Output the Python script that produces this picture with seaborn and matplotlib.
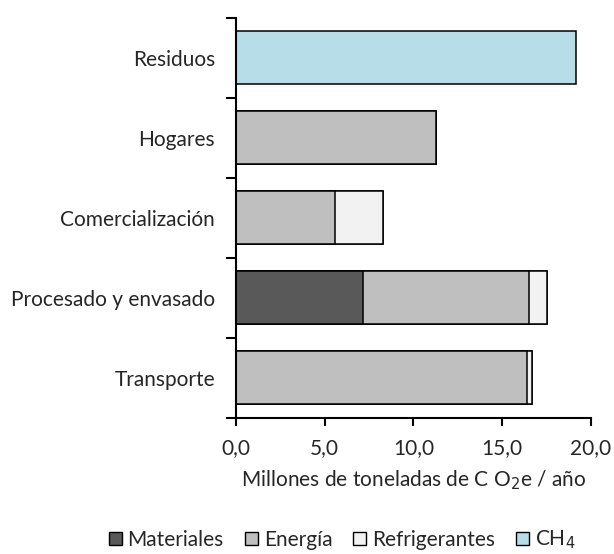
import matplotlib
matplotlib.use("Agg")
import matplotlib.pyplot as plt
import seaborn as sns
import numpy as np
import pandas as pd
from matplotlib.patches import Patch
from matplotlib.ticker import FixedLocator

categories = ["Residuos", "Hogares", "Comercialización", "Procesado y envasado", "Transporte"]
materiales = [0.0, 0.0, 0.0, 7.16, 0.0]
energia = [0.0, 11.25, 5.59, 9.36, 16.41]
refrigerantes = [0.0, 0.0, 2.68, 1.0, 0.25]
ch4 = [19.17, 0.0, 0.0, 0.0, 0.0]
series_names = ["Materiales", "Energía", "Refrigerantes", "CH$_4$"]
colors = ["#595959", "#BFBFBF", "#F2F2F2", "#B7DEE8"]
xticks = [0, 5, 10, 15, 20]
xticklabels = ["0,0", "5,0", "10,0", "15,0", "20,0"]

sns.set_style("white")
plt.rcParams["font.family"] = ["Lato", "DejaVu Sans"]

fig = plt.figure(figsize=(6.14, 5.54), dpi=100)
ax = fig.add_axes([0.384, 0.246, 0.5785, 0.722])

vals = np.array([materiales, energia, refrigerantes, ch4])
cum = np.cumsum(vals, axis=0)
for i in range(3, -1, -1):
    df = pd.DataFrame({"cat": categories, "v": cum[i]})
    sns.barplot(data=df, x="v", y="cat", order=categories, orient="h",
                color=colors[i], saturation=1, width=0.66,
                edgecolor="black", linewidth=1.1, ax=ax)

ax.set_xlim(0, 20)
ax.set_ylim(4.5, -0.5)
ax.set_xticks(xticks)
ax.set_xticklabels(xticklabels, fontsize=15)
ax.set_yticks(range(len(categories)))
ax.set_yticklabels(categories, fontsize=15)
ax.yaxis.set_minor_locator(FixedLocator(np.arange(-0.5, 5, 1)))
ax.tick_params(axis="y", which="major", length=0, pad=15)
ax.tick_params(axis="y", which="minor", length=7, width=1.5, color="black", direction="out", left=True)
ax.tick_params(axis="x", which="major", length=6, width=1.5, color="black", direction="out", bottom=True, pad=9)
ax.set_ylabel("")
ax.set_xlabel("Millones de toneladas de C O$_2$e / año", fontsize=15, labelpad=7)
for s in ["top", "right"]:
    ax.spines[s].set_visible(False)
for s in ["left", "bottom"]:
    ax.spines[s].set_color("black")
    ax.spines[s].set_linewidth(1.5)

handles = [Patch(facecolor=c, edgecolor="black", linewidth=1.0) for c in colors]
fig.legend(handles, series_names, loc="center", bbox_to_anchor=(0.557, 0.025),
           ncol=4, frameon=False, fontsize=15, handlelength=0.63, handleheight=0.63,
           handletextpad=0.28, columnspacing=1.0, borderpad=0, borderaxespad=0)

fig.savefig("out.png", dpi=100)
